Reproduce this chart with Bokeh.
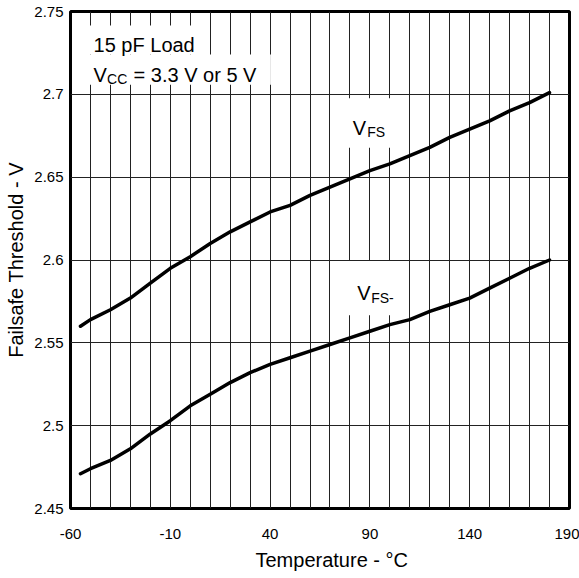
from bokeh.plotting import figure
from bokeh.models import (FixedTicker, CustomJSTickFormatter, Label, BoxAnnotation, Title)
from bokeh.embed import file_html
from bokeh.resources import INLINE

# ---- data ----
temp = [-55, -50, -40, -30, -20, -10, 0, 10, 20, 30, 40, 50, 60, 70, 80, 90,
        100, 110, 120, 130, 140, 150, 160, 170, 180]
vfs = [2.560, 2.564, 2.570, 2.577, 2.586, 2.595, 2.602, 2.610, 2.617, 2.623,
       2.629, 2.633, 2.639, 2.644, 2.649, 2.654, 2.658, 2.663, 2.668, 2.674,
       2.679, 2.684, 2.690, 2.695, 2.701]
vfs_minus = [2.471, 2.474, 2.479, 2.486, 2.495, 2.503, 2.512, 2.519, 2.526,
             2.532, 2.537, 2.541, 2.545, 2.549, 2.553, 2.557, 2.561, 2.564,
             2.569, 2.573, 2.577, 2.583, 2.589, 2.595, 2.600]
x_ticks = [-60, -10, 40, 90, 140, 190]
x_grid = [-50, -40, -30, -20, -10, 0, 10, 20, 30, 40, 50, 60, 70, 80, 90,
          100, 110, 120, 130, 140, 150, 160, 170, 180]
y_ticks = [2.45, 2.5, 2.55, 2.6, 2.65, 2.7, 2.75]
x_title = "Temperature - °C"
y_title = "Failsafe Threshold - V"

FONT = "Liberation Sans"

p = figure(width=579, height=578, x_range=(-60, 190), y_range=(2.45, 2.75),
           output_backend="svg", toolbar_location=None,
           min_border_left=70, min_border_right=10, min_border_top=11,
           min_border_bottom=70)
p.background_fill_color = "white"
p.border_fill_color = "white"
p.outline_line_color = "black"
p.outline_line_width = 3

p.xaxis.ticker = FixedTicker(ticks=x_ticks)
p.yaxis.ticker = FixedTicker(ticks=y_ticks)
p.xaxis.formatter = CustomJSTickFormatter(code="return String(Math.round(tick));")
p.yaxis.formatter = CustomJSTickFormatter(code="return String(Math.round(tick*100)/100);")
p.xgrid.ticker = FixedTicker(ticks=x_grid)
p.ygrid.ticker = FixedTicker(ticks=y_ticks)
for g in (p.xgrid, p.ygrid):
    g.grid_line_color = "#222222"
    g.grid_line_width = 1

for ax in (p.xaxis, p.yaxis):
    ax.axis_line_color = None
    ax.major_tick_line_color = None
    ax.minor_tick_line_color = None
    ax.major_tick_out = 0
    ax.major_tick_in = 0
    ax.minor_tick_out = 0
    ax.minor_tick_in = 0
    ax.major_label_text_font = FONT
    ax.major_label_text_color = "black"
p.xaxis.major_label_text_font_size = "15px"
p.yaxis.major_label_text_font_size = "15px"
p.xaxis.major_label_standoff = 20
p.yaxis.major_label_standoff = 7

p.yaxis.axis_label = y_title
p.yaxis.axis_label_text_font = FONT
p.yaxis.axis_label_text_font_size = "20px"
p.yaxis.axis_label_text_font_style = "normal"
p.yaxis.axis_label_text_color = "black"
p.yaxis.axis_label_standoff = 4

xt = Title(text=x_title, align="left", offset=185,
           text_font=FONT, text_font_size="20px", text_font_style="normal",
           text_color="black", standoff=11)
p.add_layout(xt, "below")

p.line(temp, vfs, line_color="black", line_width=3.5, line_join="round", line_cap="round")
p.line(temp, vfs_minus, line_color="black", line_width=3.5, line_join="round", line_cap="round")

# white boxes behind the annotations
for l, r, b, t in [(-59, 7.8, 2.724, 2.7415), (-59, 40.4, 2.7058, 2.724),
                   (73.0, 104.7, 2.6677, 2.6976), (73.0, 104.7, 2.5667, 2.5994)]:
    p.add_layout(BoxAnnotation(left=l, right=r, bottom=b, top=t,
                               fill_color="white", fill_alpha=1.0,
                               line_color=None, level="annotation"))


def lab(x, y, text, size, dx=0, dy=0):
    p.add_layout(Label(x=x, y=y, text=text, x_offset=dx, y_offset=dy,
                       text_font=FONT, text_font_size=size, text_color="black",
                       text_align="left", text_baseline="alphabetic"))


lab(-48.45, 2.7300, "15 pF Load", "20px")
lab(-48.45, 2.7119, "V", "20px")
lab(-48.45, 2.7119, "CC", "14px", dx=13.5, dy=-4)
lab(-48.45, 2.7119, "= 3.3 V or 5 V", "20px", dx=40)

lab(81.4, 2.6796, "V", "20px")
lab(81.4, 2.6796, "FS", "14px", dx=14.5, dy=-4)
lab(83.6, 2.5798, "V", "20px")
lab(83.6, 2.5798, "FS-", "14px", dx=14, dy=-5)

open("out.html", "w").write(file_html(p, INLINE))
